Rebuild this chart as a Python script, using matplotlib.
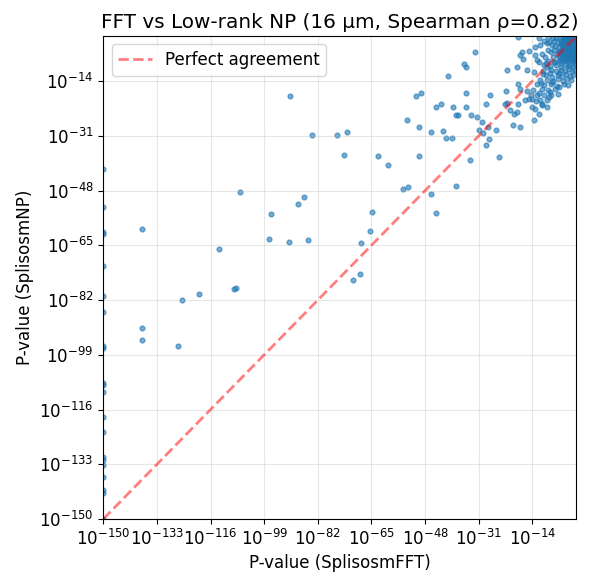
import matplotlib
matplotlib.use('Agg')
import matplotlib.pyplot as plt
import numpy as np
from matplotlib.ticker import NullLocator

# log10 p-values
# genes whose FFT p-value hit the floor (1e-150)
edge_np_log = [-41.3, -53.1, -60.9, -61.4, -71.5, -80.8, -85.8, -96.4, -97.0,
               -107.6, -108.3, -110.7, -118.2, -122.9, -130.7, -131.6, -133.2,
               -136.9, -141.0, -141.9, -150.0]

# scattered genes (fft, np)
sparse_fft_log = [-90.8, -106.6, -88.2, -86.3, -96.8, -137.6, -97.4, -91.1, -85.0, -113.2,
                  -107.9, -108.5, -119.6, -124.9, -137.6, -137.6, -126.2, -44.5, -46.2, -54.9,
                  -53.3, -38.3, -64.7, -65.4, -68.3, -68.6, -70.7, -83.7, -75.8, -72.8,
                  -73.6, -62.8, -59.6, -49.8, -53.6, -49.8, -46.0, -42.2, -41.3, -39.6,
                  -50.8, -49.3, -44.5, -43.1, -39.3, -35.0, -35.0, -40.6, -35.6, -35.1,
                  -32.1, -18.4, -38.1, -37.5, -33.4, -31.6, -30.1, -31.0, -29.7, -28.2,
                  -25.5, -27.6, -28.6, -24.7, -33.7, -28.6, -27.4, -22.3, -22.0, -21.2,
                  -20.2, -17.8, -18.7, -22.1, -19.9, -22.6, -18.4, -14.1, -12.0, -13.6,
                  -16.3, -15.2, -17.8, -18.6, -18.9, -15.7, -17.3, -17.8, -16.8, -15.0,
                  -11.5, -9.4, -7.8, -13.1, -11.0, -8.3, -8.1, -5.4, -2.8, -12.5,
                  -11.5, -11.0, -10.4, -9.4, -12.5]
sparse_np_log = [-18.6, -48.5, -52.2, -50.1, -55.3, -59.8, -62.9, -64.1, -63.4, -66.0,
                 -78.1, -78.7, -80.0, -81.9, -90.6, -94.3, -96.4, -55.0, -49.1, -47.5,
                 -47.0, -46.6, -54.5, -60.4, -64.4, -73.8, -75.9, -30.7, -30.7, -29.8,
                 -36.9, -37.3, -40.0, -37.3, -26.0, -28.3, -29.9, -29.4, -31.7, -31.7,
                 -18.6, -17.7, -22.1, -21.0, -22.1, -21.9, -17.7, -12.4, -8.6, -9.6,
                 -4.9, -0.3, -24.5, -24.5, -24.5, -25.1, -26.7, -29.1, -30.1, -28.3,
                 -29.1, -31.9, -33.8, -37.5, -38.5, -21.2, -18.2, -17.1, -20.7, -23.1,
                 -27.7, -28.3, -23.6, -10.7, -24.3, -21.0, -21.0, -22.1, -24.1, -26.2,
                 -20.0, -19.5, -16.4, -14.8, -9.6, -10.7, -4.9, -6.0, -7.0, -4.6,
                 -2.9, -2.3, -2.9, -6.0, -5.5, -17.4, -18.4, -15.8, -15.1, -18.4,
                 -20.0, -21.0, -9.1, -9.6, -7.5]

# dense cluster near p ~ 1
cluster_fft_log = [-0.2, -0.5, -0.9, -1.3, -1.8, -2.3, -2.9, -3.6, -4.4, -5.3, -6.4, -7.6, -9.0, -12.0,
                   -0.3, -0.7, -1.1, -1.6, -2.1, -2.7, -3.3, -4.1, -5.0, -6.0, -7.2, -8.6, -10.2,
                   -0.2, -0.6, -1.0, -1.5, -2.0, -2.6, -3.2, -3.9, -4.7, -5.6, -6.7, -13.0,
                   -0.4, -0.9, -1.4, -2.0, -2.7, -3.5, -4.4, -5.4, -7.0, -9.0,
                   -0.3, -0.8, -1.4, -2.1, -2.9, -3.8, -4.8, -6.1, -8.2,
                   -0.5, -1.1, -1.8, -2.6, -3.4, -4.4, -5.6, -7.4, -10.0,
                   -0.2, -0.8, -1.5, -2.3, -3.1, -4.1, -5.3, -6.8, -9.0,
                   -0.4, -1.1, -1.9, -2.8, -3.8, -5.0, -6.5, -8.5,
                   -0.6, -1.5, -2.5, -3.6, -4.9, -6.4, -8.1, -10.5,
                   -1.0, -2.1, -3.3, -4.6, -6.0, -7.8, -9.8,
                   -1.6, -3.0, -4.4, -5.9, -7.5, -9.3, -11.5,
                   -4.0, -6.2, -8.0, -10.2, -12.5,
                   -6.8, -9.0, -11.0, -13.8,
                   -6.0, -10.2, -12.0, -14.5,
                   -9.5, -12.8, -10.8, -13.2,
                   # extra fill for the darkest part of the corner
                   -0.1, -0.4, -0.8, -1.2, -1.6, -2.0, -2.5, -3.0, -3.4, -4.0,
                   -0.2, -0.6, -1.0, -1.4, -1.9, -2.4, -2.9, -3.5, -4.2, -5.0,
                   -0.1, -0.5, -0.9, -1.3, -1.7, -2.2, -2.8, -3.4, -4.1,
                   -0.3, -0.7, -1.2, -1.7, -2.3, -3.0, -3.7, -4.6, -5.7,
                   -0.2, -0.7, -1.3, -2.0, -2.8, -3.6, -4.6,
                   -0.5, -1.2, -2.0, -2.9, -3.9, -5.2,
                   -4.8, -7.2, -9.6, -11.8, -5.6, -8.4, -10.6, -13.4,
                   -7.8, -11.2, -15.6, -8.6, -14.0, -9.2]
cluster_np_log = [-0.2, -0.4, -0.3, -0.6, -0.2, -0.5, -0.3, -0.6, -0.2, -0.5, -0.3, -0.7, -0.4, -0.5,
                  -1.2, -1.6, -1.3, -1.8, -1.4, -1.9, -1.5, -1.9, -1.6, -2.0, -1.6, -1.9, -1.5,
                  -2.6, -3.1, -2.8, -3.3, -2.7, -3.2, -2.8, -3.4, -2.9, -3.3, -3.0, -3.3,
                  -4.0, -4.4, -3.9, -4.3, -4.0, -4.5, -4.1, -4.6, -4.2, -4.4,
                  -5.2, -5.6, -5.1, -5.4, -5.0, -5.6, -5.2, -5.5, -5.1,
                  -6.3, -6.6, -6.2, -6.7, -6.3, -6.8, -6.4, -6.6, -6.5,
                  -7.3, -7.8, -7.4, -7.9, -7.5, -7.9, -7.6, -8.0, -7.7,
                  -8.8, -9.2, -8.9, -9.4, -9.0, -9.5, -9.1, -9.4,
                  -10.4, -10.8, -10.3, -10.9, -10.5, -11.0, -10.6, -10.9,
                  -12.0, -12.4, -11.9, -12.5, -12.1, -12.6, -12.2,
                  -13.6, -13.2, -13.9, -13.4, -13.9, -13.5, -13.8,
                  -15.0, -15.4, -14.9, -15.3, -15.0,
                  -16.6, -16.9, -16.4, -16.8,
                  -18.0, -18.3, -17.8, -18.4,
                  -19.8, -20.3, -21.5, -22.6,
                  -0.8, -0.9, -0.7, -1.0, -0.9, -0.8, -1.1, -0.9, -1.0, -1.2,
                  -2.2, -2.3, -2.0, -2.4, -2.2, -2.5, -2.3, -2.1, -2.4, -2.6,
                  -3.6, -3.7, -3.5, -3.8, -3.6, -3.9, -3.7, -3.8, -3.5,
                  -4.8, -4.9, -4.7, -5.0, -4.8, -4.9, -5.1, -4.7, -4.9,
                  -5.9, -6.0, -5.8, -6.1, -5.9, -6.0, -6.2,
                  -7.0, -7.1, -6.9, -7.2, -7.0, -7.1,
                  -8.3, -8.1, -8.5, -8.2, -11.6, -11.4, -11.8, -11.3,
                  -14.4, -14.6, -17.2, -19.0, -19.6, -22.0]

fft_log = np.array([-150.0] * len(edge_np_log) + sparse_fft_log + cluster_fft_log)
np_log = np.array(edge_np_log + sparse_np_log + cluster_np_log)
p_fft = 10.0 ** fft_log
p_np = 10.0 ** np_log

fig = plt.figure(figsize=(5.9, 5.87), dpi=100)
ax = fig.add_axes([0.1751, 0.1158, 0.802, 0.8228])

ax.scatter(p_fft, p_np, s=12, alpha=0.6, color='#1f77b4')
ax.plot([1e-150, 1], [1e-150, 1], 'r--', alpha=0.5, lw=2, label='Perfect agreement')

ax.set_xscale('log')
ax.set_yscale('log')
ax.set_xlim(1e-150, 1)
ax.set_ylim(1e-150, 1)
ticks = 10.0 ** np.arange(-150, 0, 17)
ax.set_xticks(ticks)
ax.set_yticks(ticks)
ax.xaxis.set_minor_locator(NullLocator())
ax.yaxis.set_minor_locator(NullLocator())
ax.tick_params(labelsize=12)

ax.set_xlabel('P-value (SplisosmFFT)', fontsize=12)
ax.set_ylabel('P-value (SplisosmNP)', fontsize=12)
ax.set_title('FFT vs Low-rank NP (16 μm, Spearman ρ=0.82)', fontsize=14.4)
ax.legend(loc='upper left', fontsize=12)
ax.grid(True, alpha=0.3)

fig.savefig('out.png', dpi=100)
